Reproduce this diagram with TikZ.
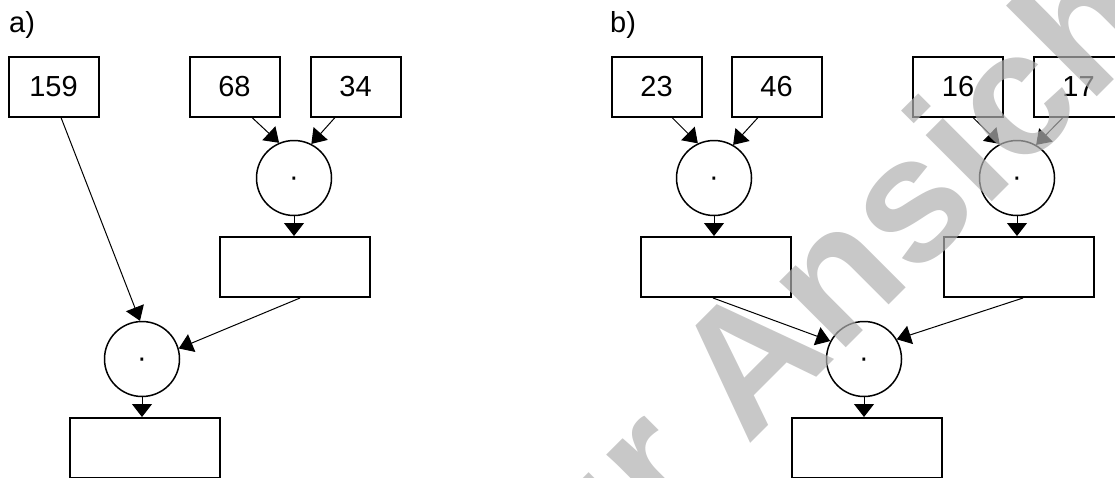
\documentclass[tikz,border=0pt]{standalone}
\usepackage{fontspec}
\setmainfont{Liberation Sans}
\newfontfamily\wmfont{Liberation Sans}
\usetikzlibrary{arrows.meta}
\definecolor{wm}{RGB}{176,176,176}
\begin{document}
\begin{tikzpicture}[x=1pt,y=-1pt,
  numbox/.style={draw, line width=2pt, minimum width=90pt, minimum height=60pt, inner sep=0pt, font=\fontsize{29}{35}\selectfont},
  resbox/.style={draw, line width=2pt, minimum width=150pt, minimum height=60pt, inner sep=0pt},
  opcirc/.style={draw, circle, line width=1.5pt, minimum size=75pt, inner sep=0pt, text height=0pt, text depth=0pt, font=\fontsize{29}{35}\selectfont},
  conn/.style={line width=1pt, -{Triangle[width=19pt,length=14pt]}},
  downarr/.style={line width=1pt, -{Triangle[width=20pt,length=13pt]}},
  lbl/.style={anchor=base west, inner sep=0pt, font=\fontsize{29}{35}\selectfont},
  wmtext/.style={anchor=base west, inner sep=0pt, rotate=45, text=wm, text opacity=0.7, font=\wmfont\bfseries\fontsize{177}{200}\selectfont}]
\useasboundingbox (0,0) rectangle (1115,477);
\clip (0,0) rectangle (1115,477);

% ---------- a) ----------
\node[lbl] (la) at (9,32) {a)};
\node[numbox] (b159) at (53.5,86.5) {159};
\node[numbox] (b68)  at (234.5,86.5) {68};
\node[numbox] (b34)  at (355.5,86.5) {34};
\node[opcirc] (c1a) at (294,178) {\raisebox{-0.31em}{·}};
\node[resbox] (m1a) at (295,267) {};
\node[opcirc] (c2a) at (142,359) {\raisebox{-0.31em}{·}};
\node[resbox] (ba)  at (144.5,448) {};

\draw[conn] ([xshift=17.5pt]b68.south) -- (c1a.113);
\draw[conn] ([xshift=-20.5pt]b34.south) -- (c1a.63);
\draw[downarr] (c1a.south) -- (c1a.south |- m1a.north);
\draw[conn] ([xshift=7.5pt]b159.south) -- (c2a.93);
\draw[conn] ([xshift=5pt]m1a.south) -- (c2a.16);
\draw[downarr] (c2a.south) -- (c2a.south |- ba.north);

% ---------- b) ----------
\node[lbl] (lb) at (610,32) {b)};
\node[numbox] (b23) at (656.5,86.5) {23};
\node[numbox] (b46) at (776.5,86.5) {46};
\node[numbox] (b16) at (958,86.5) {16};
\node[numbox] (b17) at (1078.5,86.5) {17};
\node[opcirc] (c1b) at (714,178) {\raisebox{-0.31em}{·}};
\node[opcirc] (c2b) at (1017,178) {\raisebox{-0.31em}{·}};
\node[resbox] (m1b) at (716,267) {};
\node[resbox] (m2b) at (1018.5,267) {};
\node[opcirc] (c3b) at (864,359) {\raisebox{-0.31em}{·}};
\node[resbox] (bb)  at (866.5,448) {};

\draw[conn] ([xshift=15.5pt]b23.south) -- (c1b.115);
\draw[conn] ([xshift=-18.5pt]b46.south) -- (c1b.60);
\draw[conn] ([xshift=15pt]b16.south) -- (c2b.117);
\draw[conn] ([xshift=-15.5pt]b17.south) -- (c2b.60);
\draw[downarr] (c1b.south) -- (c1b.south |- m1b.north);
\draw[downarr] (c2b.south) -- (c2b.south |- m2b.north);
\draw[conn] ([xshift=-3pt]m1b.south) -- (c3b.152);
\draw[conn] ([xshift=4.5pt]m2b.south) -- (c3b.31);
\draw[downarr] (c3b.south) -- (c3b.south |- bb.north);

% ---------- watermark ----------
\node[wmtext] (wm) at (511,683) {Zur Ansicht};
\end{tikzpicture}
\end{document}
